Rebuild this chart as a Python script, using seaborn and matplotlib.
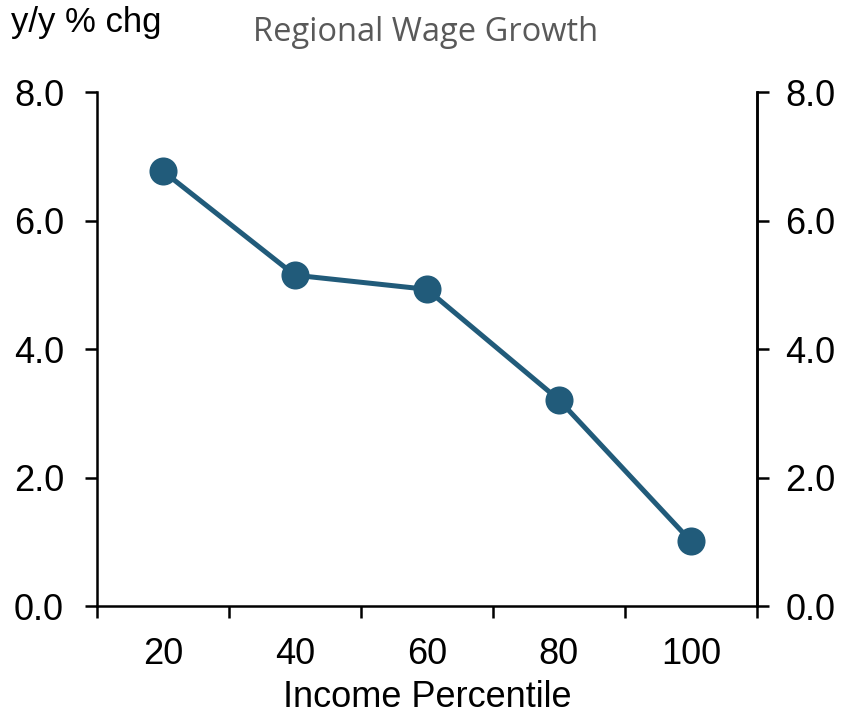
import matplotlib
matplotlib.use("Agg")
import matplotlib.pyplot as plt
import seaborn as sns
import pandas as pd
from matplotlib.ticker import FixedLocator, FormatStrFormatter

percentiles = ["20", "40", "60", "80", "100"]
wage_growth = [6.77, 5.15, 4.93, 3.21, 1.01]
yticks = [0.0, 2.0, 4.0, 6.0, 8.0]

sns.set_theme(style="white")
plt.rcParams['font.family'] = ['Liberation Sans', 'DejaVu Sans']
plt.rcParams['text.color'] = 'black'
plt.rcParams['axes.labelcolor'] = 'black'
plt.rcParams['xtick.color'] = 'black'
plt.rcParams['ytick.color'] = 'black'

df = pd.DataFrame({"pct": percentiles, "val": wage_growth})

fig = plt.figure(figsize=(8.42, 7.19), dpi=100)
ax = fig.add_axes([0.115, 0.157, 0.784, 0.715])
color = "#215b7a"
sns.pointplot(data=df, x="pct", y="val", order=percentiles, color=color,
              markers="o", markersize=17.5, linewidth=3.6, ax=ax)
ax.set_xlim(-0.5, len(percentiles) - 0.5)
ax.set_ylim(0, 8)
ax.set_yticks(yticks)
ax.yaxis.set_major_formatter(FormatStrFormatter('%.1f'))
ax.set_xlabel("Income Percentile", fontsize=26, labelpad=6)
ax.set_ylabel("")
ax.tick_params(axis='x', which='major', length=0, labelsize=26, pad=22, bottom=True)
ax.xaxis.set_minor_locator(FixedLocator([i - 0.5 for i in range(len(percentiles) + 1)]))
ax.tick_params(axis='x', which='minor', length=8.6, width=1.8, direction='out', bottom=True)
ax.tick_params(axis='y', length=8.6, width=1.8, direction='out', labelsize=26, pad=15, left=True)
for side in ['left', 'right', 'bottom']:
    ax.spines[side].set_visible(True)
    ax.spines[side].set_color('black')
    ax.spines[side].set_linewidth(1.8)
ax.spines['top'].set_visible(False)

ax2 = ax.twinx()
ax2.set_ylim(0, 8)
ax2.set_yticks(yticks)
ax2.yaxis.set_major_formatter(FormatStrFormatter('%.1f'))
ax2.tick_params(axis='y', length=8.6, width=1.8, direction='out', labelsize=26, pad=12, right=True)
for side in ['top', 'left', 'bottom']:
    ax2.spines[side].set_visible(False)
ax2.spines['right'].set_color('black')
ax2.spines['right'].set_linewidth(1.8)
ax2.grid(False)
ax.grid(False)

fig.text(0.013, 0.969, "y/y % chg", fontsize=25, ha='left', va='center')
fig.text(0.506, 0.955, "Regional Wage Growth", fontsize=23.5, ha='center', va='center',
         color='#595959', family=['Open Sans', 'DejaVu Sans'])

fig.savefig("out.png", dpi=100)
